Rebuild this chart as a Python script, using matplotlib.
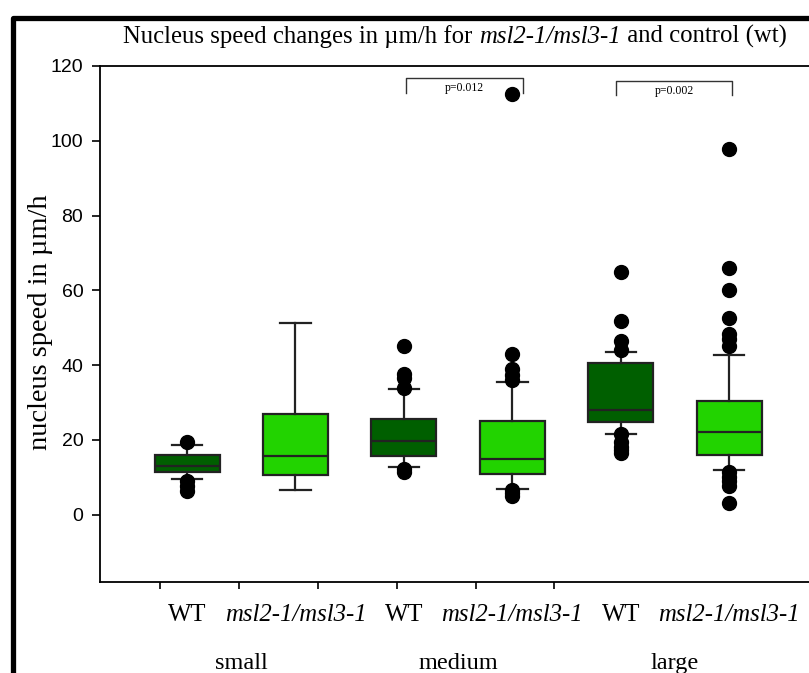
import matplotlib
matplotlib.use("Agg")
import matplotlib.pyplot as plt
import matplotlib.transforms as mtransforms
from matplotlib.lines import Line2D

# box statistics (um/h)
groups = ["small", "medium", "large"]
tick_labels = ["WT", "msl2-1/msl3-1", "WT", "msl2-1/msl3-1", "WT", "msl2-1/msl3-1"]
q1 = [11.4, 10.6, 15.6, 10.9, 24.7, 15.9]
med = [12.9, 15.8, 19.7, 14.8, 28.0, 22.0]
q3 = [15.9, 26.8, 25.6, 25.1, 40.5, 30.5]
whislo = [9.6, 6.5, 12.7, 6.9, 21.6, 12.0]
whishi = [18.7, 51.3, 33.6, 35.6, 43.4, 42.6]
fliers = [
    [19.4, 8.9, 7.6, 6.3],
    [],
    [45.0, 37.7, 36.5, 34.0, 12.2, 11.3],
    [112.5, 42.9, 38.9, 37.4, 36.0, 6.6, 5.8, 5.0],
    [64.8, 51.8, 46.4, 44.0, 21.5, 19.5, 18.2, 17.2, 16.4],
    [97.8, 65.9, 60.1, 52.7, 48.4, 46.9, 45.2, 11.4, 10.2, 9.0, 7.8, 3.1],
]
p_labels = ["p=0.012", "p=0.002"]

positions = [1, 2, 3, 4, 5, 6]
colors = ["#005f00", "#22d300"] * 3

fig = plt.figure(figsize=(8.09, 6.73), dpi=100)
ax = fig.add_axes([100 / 809, 91 / 673, 730 / 809, 516 / 673])

stats = []
for i in range(6):
    stats.append(dict(med=med[i], q1=q1[i], q3=q3[i], whislo=whislo[i],
                      whishi=whishi[i], fliers=fliers[i]))

bp = ax.bxp(stats, positions=positions, widths=0.6, capwidths=0.28,
            patch_artist=True,
            boxprops=dict(edgecolor="#222222", linewidth=1.6),
            medianprops=dict(color="#222222", linewidth=1.6),
            whiskerprops=dict(color="#222222", linewidth=1.6),
            capprops=dict(color="#222222", linewidth=1.6),
            flierprops=dict(marker="o", markerfacecolor="black",
                            markeredgecolor="black", markersize=10))
for box, c in zip(bp["boxes"], colors):
    box.set_facecolor(c)

ax.set_xlim(0.197, 6.93)
ax.set_ylim(-18, 120)
ax.set_yticks([0, 20, 40, 60, 80, 100, 120])
ax.tick_params(axis="y", direction="out", length=6, width=1.2, pad=6,
               labelsize=14)
for lab in ax.get_yticklabels():
    lab.set_fontfamily("Liberation Sans")

ax.set_xticks(positions)
ax.set_xticklabels(tick_labels, fontfamily="Liberation Serif", fontsize=17.8)
for lab in ax.get_xticklabels():
    if lab.get_text() != "WT":
        lab.set_fontstyle("italic")
ax.tick_params(axis="x", which="major", length=0, pad=16)
ax.set_xticks([0.751, 1.480, 2.209, 2.937, 3.666, 4.386], minor=True)
ax.tick_params(axis="x", which="minor", direction="out", length=5, width=1.2)

for side in ["left", "bottom", "top"]:
    ax.spines[side].set_linewidth(1.3)
ax.spines["right"].set_visible(False)

# y label placed in figure pixels
fig.text(41 / 809, 1 - 322 / 673, "nucleus speed in \u00b5m/h", rotation=90,
         ha="center", va="center", fontfamily="Liberation Serif", fontsize=20.5)

# group names under the tick labels
trans = mtransforms.blended_transform_factory(ax.transData, fig.transFigure)
for j, g in enumerate(groups):
    ax.text(positions[2 * j] + 0.5, 1 - 669 / 673, g, transform=trans,
            ha="center", va="baseline", fontfamily="Liberation Serif", fontsize=17.5)

# significance brackets
brackets = [(3.02, 4.10, 116.8, 112.8), (4.96, 6.03, 116.0, 112.2)]
for (x0, x1, top, bot), p in zip(brackets, p_labels):
    ax.plot([x0, x0, x1, x1], [bot, top, top, bot], color="#333333", lw=1.0,
            clip_on=False)
    ax.text((x0 + x1) / 2, top - 1.2, p, ha="center", va="top",
            fontfamily="Liberation Serif", fontsize=8.5)

# title in three pieces so the genotype is italic
pieces = [("Nucleus speed changes in \u00b5m/h for ", "normal"),
          ("msl2-1/msl3-1", "italic"),
          (" and control (wt)", "normal")]
renderer = fig.canvas.get_renderer()
texts = []
widths = []
for s, style in pieces:
    t = fig.text(0, 1 - 43 / 673, s, ha="left", va="baseline",
                 fontfamily="Liberation Serif", fontstyle=style, fontsize=17.8)
    texts.append(t)
    widths.append(t.get_window_extent(renderer).width)
x = 455 - sum(widths) / 2
for t, w in zip(texts, widths):
    t.set_x(x / 809)
    x += w

# thick frame on the left and top
fig.add_artist(Line2D([12.5 / 809, 12.5 / 809, 1.01], [-0.01, 1 - 17.5 / 673, 1 - 17.5 / 673],
                      transform=fig.transFigure, color="black", lw=3.8))

fig.savefig("out.png", dpi=100)
